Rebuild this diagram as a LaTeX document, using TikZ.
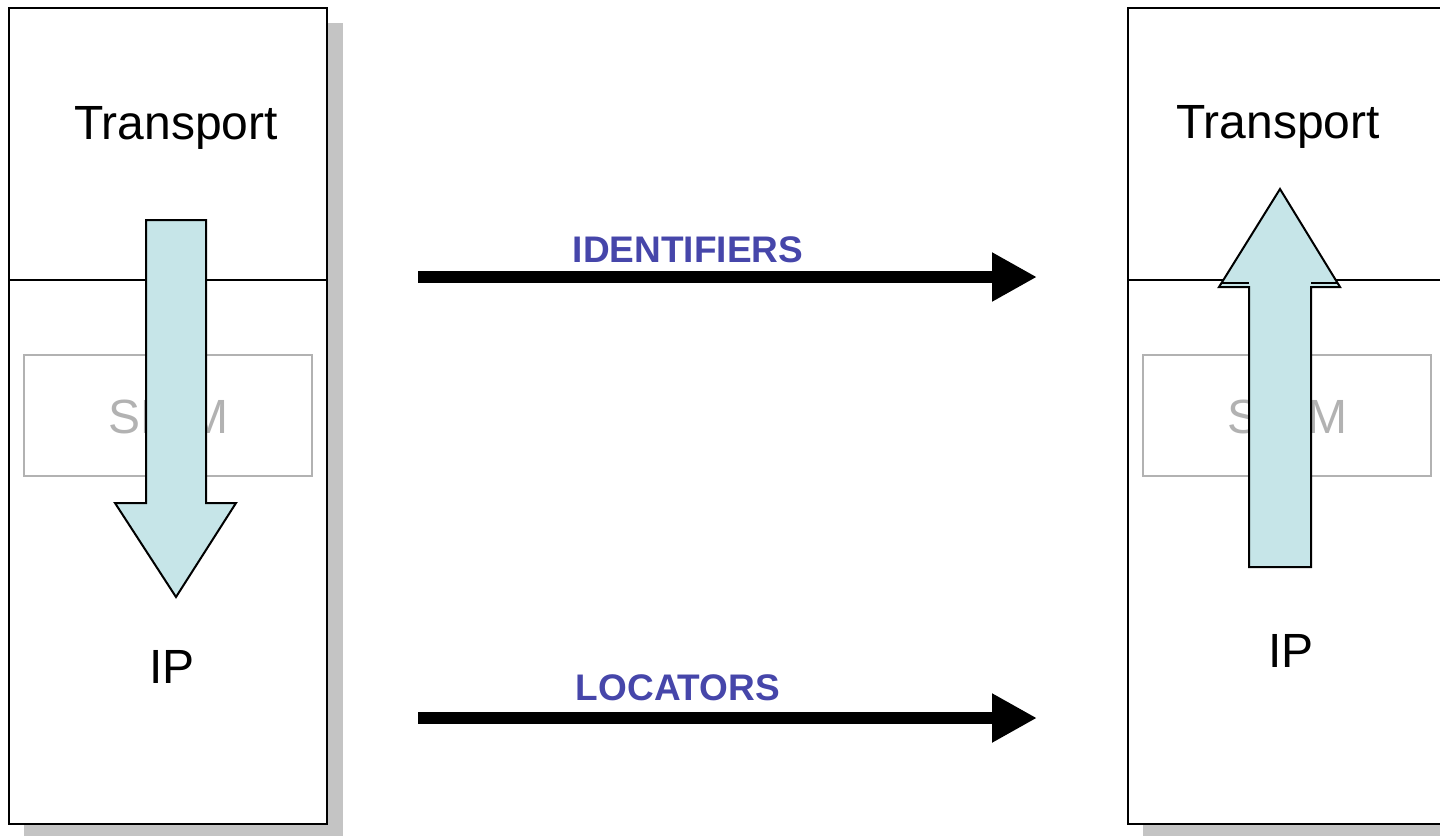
\documentclass[tikz,border=0pt]{standalone}
\usepackage{fontspec}
\setmainfont{Liberation Sans}
\usetikzlibrary{arrows.meta}
\definecolor{shadowgray}{RGB}{196,196,196}
\definecolor{shimgray}{RGB}{178,178,178}
\definecolor{flowfill}{RGB}{198,229,232}
\definecolor{labelblue}{RGB}{70,70,170}
\tikzset{
  stackbox/.style={draw=black, line width=2.2pt, fill=white},
  shadowbox/.style={fill=shadowgray, draw=none},
  shimbox/.style={draw=shimgray, line width=1.6pt},
  bigtext/.style={font=\fontsize{48}{58}\selectfont, anchor=base, inner sep=0pt},
  shimtext/.style={bigtext, text=shimgray},
  flowarrow/.style={draw=black, line width=2pt, fill=flowfill, line join=miter},
  flowlabel/.style={font=\bfseries\fontsize{37}{44}\selectfont, text=labelblue, anchor=base, inner sep=0pt},
  datalink/.style={line width=12pt, -{Triangle[length=45pt,width=46pt]}}
}
\begin{document}
\begin{tikzpicture}[x=1pt,y=-1pt]
\useasboundingbox (0,0) rectangle (1440,836);
% shadows
\fill[shadowbox] (24,23) rectangle (343,836);
\fill[shadowbox] (1143,23) rectangle (1460,836);
% stack boxes
\draw[stackbox] (9,8) rectangle (327,824);
\draw[stackbox] (1128,8) rectangle (1460,824);
\draw[line width=1.6pt] (9,280) -- (327,280);
\draw[line width=1.6pt] (1128,280) -- (1460,280);
% shim boxes
\draw[shimbox] (24,355) rectangle (312,476);
\draw[shimbox] (1143,355) rectangle (1431,476);
\node[shimtext] (shimL) at (168,433) {SHIM};
\node[shimtext] (shimR) at (1287,433) {SHIM};
% layer labels
\node[bigtext] (transL) at (176,139) {Transport};
\node[bigtext] (ipL) at (172,683) {IP};
\node[bigtext] (transR) at (1278,138) {Transport};
\node[bigtext] (ipR) at (1291,667) {IP};
% flow arrows
\draw[flowarrow] (146,220) -- (206,220) -- (206,503) -- (236,503) -- (176,597) -- (115,503) -- (146,503) -- cycle;
\draw[flowarrow] (1249,567) -- (1311,567) -- (1311,287) -- (1340,287) -- (1280,189) -- (1219,287) -- (1249,287) -- cycle;
\draw[line width=1.2pt] (1221,283) -- (1249,283) (1311,283) -- (1338,283);
% horizontal connectors
\coordinate (idA) at (418,277);
\coordinate (idB) at (1037,277);
\coordinate (locA) at (418,718);
\coordinate (locB) at (1037,718);
\draw[datalink] (idA) -- (idB);
\draw[datalink] (locA) -- (locB);
\node[flowlabel] (idlabel) at (688,262) {IDENTIFIERS};
\node[flowlabel] (loclabel) at (678,700) {LOCATORS};
\end{tikzpicture}
\end{document}
